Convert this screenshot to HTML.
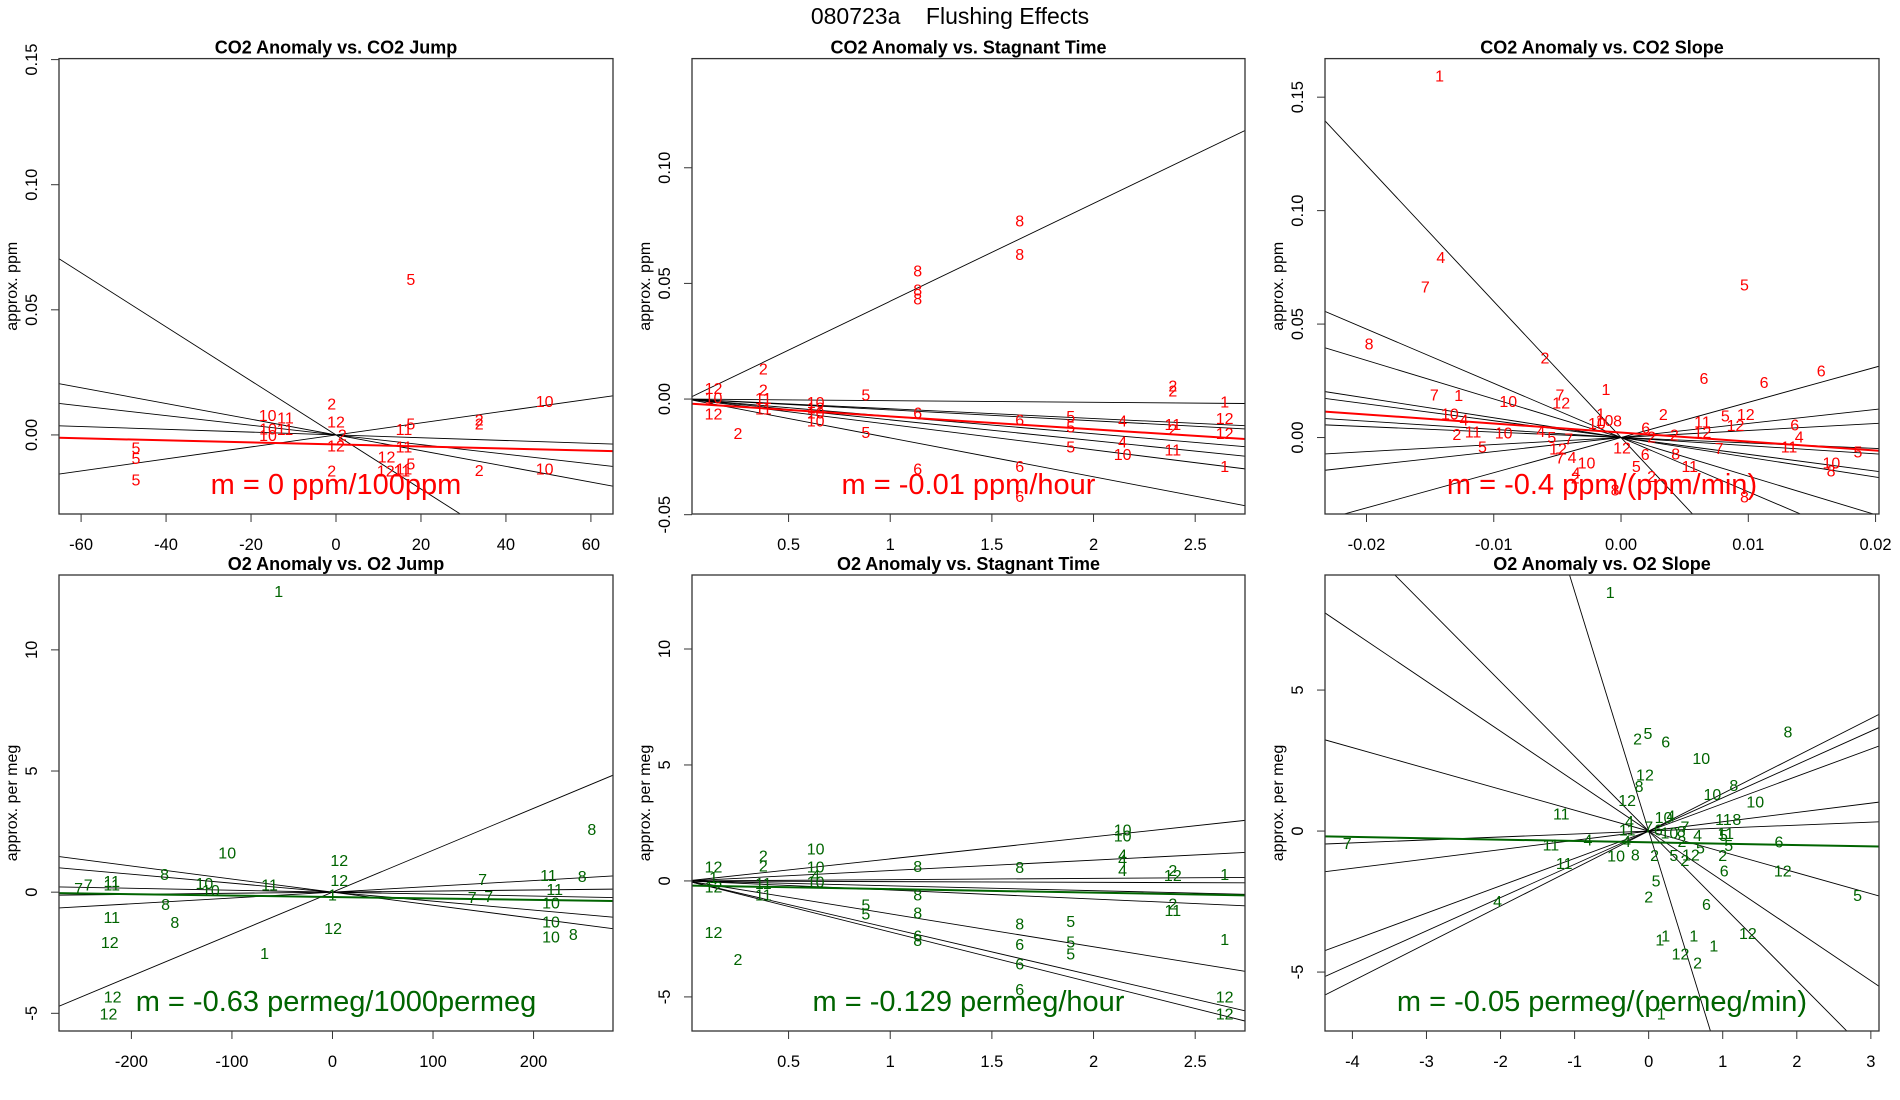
<!DOCTYPE html>
<html><head><meta charset="utf-8"><title>080723a Flushing Effects</title>
<style>
html,body{margin:0;padding:0;background:#fff;width:1900px;height:1100px;overflow:hidden;}
svg{display:block;font-family:"Liberation Sans",Arial,sans-serif;}
</style></head>
<body>
<svg id="chart" width="1900" height="1100" viewBox="0 0 1900 1100" xmlns="http://www.w3.org/2000/svg">
<rect x="0" y="0" width="1900" height="1100" fill="#fff"/>
<text x="950" y="24" text-anchor="middle" font-size="23" xml:space="preserve">080723a    Flushing Effects</text>
</svg>
<script>
// ---- Panel 1: CO2 Anomaly vs CO2 Jump ----
const p1X = [-1,-16.1,-11.9,0,-16,-12,-16,1.5,0,-47.1,-47.1,-47.1,17.6,16,17.6,16,11.9,17.6,16,11.7,15.5,-1,33.7,33.7,33.7,49.1,49.1];
const p1Y = [0.012,0.0073,0.0064,0.0048,0.002,0.0017,-0.0007,-0.0005,-0.0049,-0.0057,-0.0099,-0.0185,0.0617,0.0017,0.004,-0.0053,-0.0092,-0.012,-0.014,-0.0148,-0.0148,-0.0148,0.0056,0.0039,-0.0147,0.013,-0.014];
const p1Lab = ["2","10","11","12","10","11","10","2","12","5","5","5","5","11","5","11","12","5","11","12","11","2","2","2","2","10","10"];
const p1Slopes = [-0.00108,-0.000314,-0.000193,-0.000056,0.00024];
const p1Fit = [-0.0038,-0.0000408];
const p1XTicks = [-60,-40,-20,0,20,40,60];
const p1YTicks = [0,0.05,0.10,0.15];
const p1YLabels = ["0.00","0.05","0.10","0.15"];

// ---- Panel 2: CO2 Anomaly vs Stagnant Time ----
const p2X = [1.637,1.637,1.135,1.135,1.135,0.376,0.131,0.131,0.131,0.376,0.376,0.376,0.633,0.633,0.633,0.633,0.88,0.88,1.135,0.251,1.637,1.637,1.637,1.135,1.888,1.888,1.888,2.143,2.143,2.143,2.39,2.39,2.39,2.39,2.39,2.645,2.645,2.645,2.645];
const p2Y = [0.0765,0.0621,0.0549,0.0467,0.0428,0.0125,0.0041,0.0,-0.007,0.0034,-0.0003,-0.0048,-0.002,-0.0065,-0.010,-0.0043,0.0014,-0.0148,-0.0065,-0.0153,-0.0095,-0.0297,-0.0426,-0.0307,-0.008,-0.0126,-0.0212,-0.0099,-0.019,-0.0245,0.0052,0.0031,-0.0114,-0.0137,-0.0224,-0.0016,-0.0088,-0.0153,-0.0295];
const p2Lab = ["8","8","8","8","8","2","12","10","12","2","11","11","10","10","10","12","5","5","6","2","6","6","6","6","5","5","5","4","4","10","2","2","11","2","11","1","12","12","1"];
const p2Slopes = [0.0423,-0.0007,-0.0042,-0.0047,-0.0075,-0.009,-0.011,-0.0168];
const p2Fit = [-0.0019,-0.0056];
const p2XTicks = [0.5,1.0,1.5,2.0,2.5];
const p2YTicks = [-0.05,0,0.05,0.10];
const p2YLabels = ["-0.05","0.00","0.05","0.10"];

// ---- Panel 3: CO2 Anomaly vs CO2 Slope ----
const p3X = [-0.01426,-0.01416,-0.01538,0.0097,-0.0198,-0.00598,0.00652,0.01124,0.01573,-0.01467,-0.01275,-0.00886,-0.0048,-0.0047,-0.00118,-0.01345,-0.01234,-0.0129,-0.01163,-0.00922,-0.0063,-0.00544,-0.01089,-0.00495,-0.0041,-0.0048,-0.00385,-0.00271,-0.00353,-0.0036,-0.00047,-0.0016,-0.0013,-0.0019,-0.00027,0.00194,0.0024,0.00332,0.00419,0.00008,0.0019,0.0012,0.0024,0.0043,0.0054,0.0064,0.0064,0.0082,0.0098,0.009,0.0077,0.0097,0.01365,0.014,0.0132,0.01653,0.0165,0.01862];
const p3Y = [0.159,0.0788,0.066,0.0668,0.0408,0.0346,0.0255,0.0238,0.0289,0.0184,0.0181,0.0154,0.0184,0.0147,0.0207,0.0099,0.0073,0.0008,0.0019,0.0016,0.0022,-0.0005,-0.0046,-0.0055,-0.001,-0.0095,-0.0093,-0.0116,-0.016,-0.0182,-0.0236,0.0099,0.0071,0.0057,0.0068,0.0038,-0.0003,0.0096,0.0007,-0.0051,-0.0079,-0.0132,-0.0176,-0.0077,-0.0132,0.0065,0.0017,0.0091,0.0096,0.0048,-0.0053,-0.0267,0.005,-0.0003,-0.0047,-0.0116,-0.0151,-0.0068];
const p3Lab = ["1","4","7","5","8","2","6","6","6","7","1","10","7","12","1","10","4","2","11","10","4","5","5","12","7","7","4","10","4","2","8","1","10","10","8","6","2","2","2","12","6","5","2","8","11","11","12","5","12","12","7","8","6","4","11","10","8","5"];
const p3Slopes = [-6.0,-2.39,-1.7,-0.87,-0.74,-0.36,-0.24,0.31,0.62,1.55];
const p3Fit = [0.0022,-0.397];
const p3XTicks = [-0.02,-0.01,0,0.01,0.02];
const p3XLabels = ["-0.02","-0.01","0.00","0.01","0.02"];
const p3YTicks = [0,0.05,0.10,0.15];
const p3YLabels = ["0.00","0.05","0.10","0.15"];

// ---- Panel 4: O2 Anomaly vs O2 Jump ----
const p4X = [-53.5,-104.7,6.8,258,-167,-252.5,-243,-219.5,-219.5,-127.4,-121,-62.6,6.8,0,-166,-219.5,-156.8,-221.5,0.6,-67.5,-218.6,-222.8,149.3,139,155.4,214.8,221,248.4,217.3,217.3,217.3,239.6];
const p4Y = [12.36,1.58,1.26,2.54,0.69,0.1,0.25,0.4,0.25,0.32,0.03,0.25,0.43,-0.16,-0.56,-1.08,-1.3,-2.11,-1.55,-2.58,-4.36,-5.07,0.48,-0.27,-0.22,0.65,0.06,0.6,-0.49,-1.27,-1.89,-1.79];
const p4Lab = ["1","10","12","8","8","7","7","11","11","10","10","11","12","1","8","11","8","12","12","1","12","12","7","7","7","11","11","8","10","10","10","8"];
const p4Slopes = [0.0173,-0.0054,-0.0037,-0.0008,0.0024,0.00045];
const p4Fit = [-0.2,-0.00059];
const p4XTicks = [-200,-100,0,100,200];
const p4YTicks = [-5,0,5,10];

// ---- Panel 5: O2 Anomaly vs Stagnant Time ----
const p5X = [0.131,0.131,0.131,0.131,0.251,0.376,0.376,0.376,0.376,0.633,0.633,0.633,0.633,0.88,0.88,1.135,1.135,1.135,1.135,1.135,1.637,1.637,1.637,1.637,1.637,1.888,1.888,1.888,2.143,2.143,2.143,2.143,2.143,2.39,2.39,2.39,2.39,2.645,2.645,2.645,2.645];
const p5Y = [0.56,0.1,-0.3,-2.27,-3.44,1.03,0.61,-0.16,-0.66,1.34,0.56,0.2,-0.08,-1.08,-1.46,0.58,-0.66,-1.42,-2.41,-2.62,0.53,-1.9,-2.78,-3.62,-4.73,-1.8,-2.67,-3.19,2.15,1.9,1.08,0.87,0.41,0.41,0.2,-1.03,-1.31,0.23,-2.57,-5.04,-5.78];
const p5Lab = ["12","1","12","12","2","2","2","11","11","10","10","4","10","5","5","8","8","8","6","8","8","8","6","6","6","5","5","5","10","10","4","4","4","2","12","2","11","1","1","12","12"];
const p5Slopes = [0.951,0.448,0.055,-0.03,-0.21,-0.39,-1.42,-2.04,-2.2];
const p5Fit = [-0.196,-0.155];
const p5XTicks = [0.5,1.0,1.5,2.0,2.5];
const p5YTicks = [-5,0,5,10];

// ---- Panel 6: O2 Anomaly vs O2 Slope ----
const p6X = [-0.52,-0.15,-0.01,0.23,0.71,1.88,-0.05,-0.13,-0.29,-1.18,0.86,1.15,1.44,1.01,1.19,1.04,0.2,0.3,-0.26,-0.29,0,0.49,0.66,1.01,1.76,-4.07,-1.32,-0.82,-0.3,0.13,0.28,0.44,0.45,0.7,1.0,1.08,-0.44,-0.18,0.08,0.34,0.57,0.49,-1.14,1.02,1.81,0.1,0.0,-2.04,0.78,2.82,1.34,0.15,0.23,0.61,0.88,0.43,0.66,0.17];
const p6Y = [8.42,3.23,3.42,3.12,2.53,3.48,1.96,1.54,1.05,0.57,1.26,1.58,0.99,0.38,0.38,-0.12,0.45,0.5,0.3,0.0,0.1,0.1,-0.19,-0.19,-0.42,-0.48,-0.53,-0.35,-0.4,0.0,-0.1,-0.05,-0.4,-0.64,-0.9,-0.55,-0.92,-0.88,-0.9,-0.9,-0.88,-1.08,-1.18,-1.45,-1.45,-1.81,-2.37,-2.54,-2.64,-2.32,-3.67,-3.89,-3.75,-3.75,-4.11,-4.4,-4.72,-6.52];
const p6Lab = ["1","2","5","6","10","8","12","8","12","11","10","8","10","11","8","11","10","4","4","11","7","7","4","5","6","7","11","4","4","6","10","8","2","5","2","5","10","8","2","5","12","2","11","6","12","5","2","4","6","5","12","1","1","1","1","12","2","1"];
const p6Slopes = [-8.5,-2.65,-1.77,-0.74,1.33,1.18,0.97,0.33,0.105];
const p6Fit = [-0.40,-0.048];
const p6XTicks = [-4,-3,-2,-1,0,1,2,3];
const p6YTicks = [-5,0,5];

const NS = "http://www.w3.org/2000/svg";
const svg = document.getElementById("chart");
function mk(tag, attrs, parent){
  const e = document.createElementNS(NS, tag);
  for (const k in attrs) e.setAttribute(k, attrs[k]);
  (parent||svg).appendChild(e);
  return e;
}
function fmtTick(v){ return String(v); }

let panelCount = 0;
function panel(cfg){
  panelCount++;
  const id = "p" + panelCount;
  const g = mk("g", {});
  
  
  const L = cfg.box[0], T = cfg.box[1], R = cfg.box[2], B = cfg.box[3];
  const sx = v => L + (v - cfg.xlim[0]) / (cfg.xlim[1] - cfg.xlim[0]) * (R - L);
  const sy = v => B - (v - cfg.ylim[0]) / (cfg.ylim[1] - cfg.ylim[0]) * (B - T);
  const cp = mk("clipPath", {id: id + "clip"}, g);
  mk("rect", {x: L, y: T, width: R - L, height: B - T}, cp);
  const plot = mk("g", {"clip-path": "url(#" + id + "clip)"}, g);
  cfg.slopes.forEach(function(m){
    const x0 = cfg.xlim[0], x1 = cfg.xlim[1];
    const ln = mk("line", {x1: sx(x0), y1: sy(m * x0), x2: sx(x1), y2: sy(m * x1), stroke: "#000", "stroke-width": 0.9}, plot);
    
    
  });
  {
    const x0 = cfg.xlim[0], x1 = cfg.xlim[1];
    const a = cfg.fit[0], b = cfg.fit[1];
    const fl = mk("line", {x1: sx(x0), y1: sy(a + b * x0), x2: sx(x1), y2: sy(a + b * x1), stroke: cfg.color, "stroke-width": 2}, plot);
    
    
  }
  cfg.xs.forEach(function(xv, i){
    const t = mk("text", {x: sx(xv), y: sy(cfg.ys[i]), fill: cfg.color, "font-size": 16, "text-anchor": "middle", "dominant-baseline": "central"}, plot);
    t.textContent = cfg.labs[i];
    
    
  });
  const bx = mk("rect", {x: L, y: T, width: R - L, height: B - T, fill: "none", stroke: "#333", "stroke-width": 1.3}, g);
  
  
  cfg.xticks.forEach(function(v, i){
    const x = sx(v);
    mk("line", {x1: x, y1: B, x2: x, y2: B + 8, stroke: "#333", "stroke-width": 1}, g);
    const t = mk("text", {x: x, y: B + 36, "font-size": 16.5, "text-anchor": "middle", fill: "#000"}, g);
    t.textContent = cfg.xlabels ? cfg.xlabels[i] : fmtTick(v);
    
    
  });
  cfg.yticks.forEach(function(v, i){
    const y = sy(v);
    mk("line", {x1: L - 8, y1: y, x2: L, y2: y, stroke: "#333", "stroke-width": 1}, g);
    const tx = L - 22;
    const t = mk("text", {x: tx, y: y, "font-size": 16.5, "text-anchor": "middle", fill: "#000", transform: "rotate(-90 " + tx + " " + y + ")"}, g);
    t.textContent = cfg.ylabels ? cfg.ylabels[i] : fmtTick(v);
    
    
  });
  const yx = L - 42, yy = (T + B) / 2;
  const yl = mk("text", {x: yx, y: yy, "font-size": 16, "text-anchor": "middle", fill: "#000", transform: "rotate(-90 " + yx + " " + yy + ")"}, g);
  yl.textContent = cfg.ylab;
  
  
  const tt = mk("text", {x: (L + R) / 2, y: T - 5, "font-size": 18, "font-weight": "bold", "text-anchor": "middle", fill: "#000"}, g);
  tt.textContent = cfg.title;
  
  
  const st = mk("text", {x: (L + R) / 2, y: cfg.slopeY, "font-size": 29, "text-anchor": "middle", fill: cfg.color}, g);
  st.textContent = cfg.slopeText;
  
  
}

const RED = "#ff0000", GREEN = "#006400";
panel({name: "co2-vs-co2-jump-panel", box: [59, 58.6, 613, 514], xlim: [-65.2, 65.2], ylim: [-0.0316, 0.1504],
  xs: p1X, ys: p1Y, labs: p1Lab, slopes: p1Slopes, fit: p1Fit, color: RED,
  xticks: p1XTicks, yticks: p1YTicks, ylabels: p1YLabels, ylab: "approx. ppm",
  title: "CO2 Anomaly vs. CO2 Jump", slopeText: "m = 0 ppm/100ppm", slopeY: 494});
panel({name: "co2-vs-stagnant-time-panel", box: [692, 58.6, 1245, 514], xlim: [0.025, 2.745], ylim: [-0.0497, 0.1472],
  xs: p2X, ys: p2Y, labs: p2Lab, slopes: p2Slopes, fit: p2Fit, color: RED,
  xticks: p2XTicks, yticks: p2YTicks, ylabels: p2YLabels, ylab: "approx. ppm",
  title: "CO2 Anomaly vs. Stagnant Time", slopeText: "m = -0.01 ppm/hour", slopeY: 494});
panel({name: "co2-vs-co2-slope-panel", box: [1325, 58.6, 1879, 514], xlim: [-0.02326, 0.02027], ylim: [-0.0337, 0.167],
  xs: p3X, ys: p3Y, labs: p3Lab, slopes: p3Slopes, fit: p3Fit, color: RED,
  xticks: p3XTicks, xlabels: p3XLabels, yticks: p3YTicks, ylabels: p3YLabels, ylab: "approx. ppm",
  title: "CO2 Anomaly vs. CO2 Slope", slopeText: "m = -0.4 ppm/(ppm/min)", slopeY: 494});
panel({name: "o2-vs-o2-jump-panel", box: [59, 575, 613, 1031], xlim: [-272, 279], ylim: [-5.73, 13.09],
  xs: p4X, ys: p4Y, labs: p4Lab, slopes: p4Slopes, fit: p4Fit, color: GREEN,
  xticks: p4XTicks, yticks: p4YTicks, ylab: "approx. per meg",
  title: "O2 Anomaly vs. O2 Jump", slopeText: "m = -0.63 permeg/1000permeg", slopeY: 1011});
panel({name: "o2-vs-stagnant-time-panel", box: [692, 575, 1245, 1031], xlim: [0.025, 2.745], ylim: [-6.47, 13.19],
  xs: p5X, ys: p5Y, labs: p5Lab, slopes: p5Slopes, fit: p5Fit, color: GREEN,
  xticks: p5XTicks, yticks: p5YTicks, ylab: "approx. per meg",
  title: "O2 Anomaly vs. Stagnant Time", slopeText: "m = -0.129 permeg/hour", slopeY: 1011});
panel({name: "o2-vs-o2-slope-panel", box: [1325, 575, 1879, 1031], xlim: [-4.37, 3.11], ylim: [-7.09, 9.08],
  xs: p6X, ys: p6Y, labs: p6Lab, slopes: p6Slopes, fit: p6Fit, color: GREEN,
  xticks: p6XTicks, yticks: p6YTicks, ylab: "approx. per meg",
  title: "O2 Anomaly vs. O2 Slope", slopeText: "m = -0.05 permeg/(permeg/min)", slopeY: 1011});
</script>
</body></html>
